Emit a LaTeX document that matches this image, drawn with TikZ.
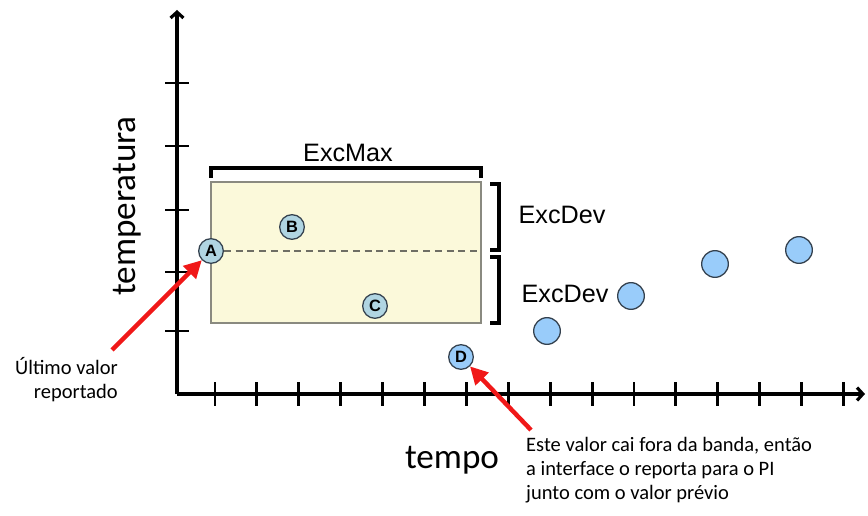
\documentclass[tikz,border=0pt]{standalone}
\usepackage{fontspec}
\setmainfont{Carlito}
\newfontfamily\arialfont{Liberation Sans}
\usepackage{xcolor}
\usepackage{tikz}
\usetikzlibrary{arrows.meta}
\definecolor{band}{HTML}{FBF9DA}
\definecolor{bandEdge}{HTML}{8A8A80}
\definecolor{dashGrey}{HTML}{6E6E64}
\definecolor{ptBlue}{HTML}{99CCFA}
\definecolor{ptPale}{HTML}{B0D5E2}
\definecolor{ptEdge}{HTML}{34414E}
\definecolor{callRed}{HTML}{F01818}
\tikzset{
  axisLine/.style={draw=black, line width=2.7pt, -{Straight Barb[length=5pt,width=11pt]}},
  tickMark/.style={draw=black, line width=2.5pt},
  bracketLine/.style={draw=black, line width=2.7pt},
  ptDot/.style={circle, draw=ptEdge, line width=1.1pt, fill=ptBlue, minimum size=0.8cm, inner sep=0pt},
  ptLbl/.style={ptDot, fill=ptPale, minimum size=0.74cm, font=\arialfont\bfseries\fontsize{14}{14}\selectfont},
  axisLbl/.style={font=\fontsize{30}{30}\selectfont, inner sep=0pt},
  bandLbl/.style={font=\arialfont\fontsize{21.5}{21.5}\selectfont, inner sep=0pt},
  noteLbl/.style={font=\fontsize{17.5}{20.5}\selectfont, inner sep=0pt},
  redArrow/.style={draw=callRed, line width=3.8pt, -{Triangle[length=15pt,width=15pt]}},
}
\newcommand{\BandCorners}{%
  \coordinate (bandNW) at (211,182);
  \coordinate (bandSE) at (481,323);
  \coordinate (bandMid) at (481,251);
}

\begin{document}
\begin{tikzpicture}[x=0.03cm, y=-0.03cm]
  \useasboundingbox (0,0) rectangle (868,516);
  \BandCorners

  % axes
  \coordinate (origin) at (177,394);
  \coordinate (yTop) at (177,10);
  \coordinate (xEnd) at (865,394);
  \draw[axisLine] (origin) -- (yTop);
  \draw[axisLine] (origin) -- (xEnd);
  \foreach \y in {83,146,210,272,331}
    \draw[tickMark] (165,\y) -- (189,\y);
  \foreach \i in {0,...,15}
    \draw[tickMark] ({215+41.9*\i},382) -- ++(0,24);

  % band
  \draw[fill=band, draw=bandEdge, line width=1pt] (bandNW) rectangle (bandSE);
  \draw[bracketLine] (211,178) -- (211,168) -- (481,168) -- (481,178);
  \draw[bracketLine] (490,184) -- (499,184) -- (499,250) -- (490,250);
  \draw[bracketLine] (490,257) -- (499,257) -- (499,323) -- (490,323);
  \node[bandLbl] (excMax) at (348,153) {ExcMax};
  \node[bandLbl] (excDevUp) at (562,215) {ExcDev};
  \node[bandLbl] (excDevLo) at (565,294) {ExcDev};

  % points
  \node[ptLbl] (A) at (211,251) {A};
  \draw[dashGrey, dashed, line width=1.2pt, dash pattern=on 6pt off 4pt] (A) -- (bandMid);
  \node[ptLbl] (B) at (292,227) {B};
  \node[ptLbl] (C) at (375,306) {C};
  \node[ptLbl, fill=ptBlue] (D) at (461,357) {D};
  \node[ptDot] (p1) at (547,331) {};
  \node[ptDot] (p2) at (631,296) {};
  \node[ptDot] (p3) at (715,264) {};
  \node[ptDot] (p4) at (799,250) {};

  % labels
  \node[axisLbl, rotate=90] (tempLbl) at (127,206) {temperatura};
  \node[axisLbl] (timeLbl) at (452,460) {tempo};
  \node[noteLbl, align=right, anchor=east] (lastNote) at (118,380) {Último valor\\reportado};
  \node[noteLbl, align=left, anchor=west] (outNote) at (526,470)
    {Este valor cai fora da banda, então\\a interface o reporta para o PI\\junto com o valor prévio};

  \coordinate (lastTail) at (112,350);
  \coordinate (outTail) at (531,430);
  \draw[redArrow] (lastTail) -- (A);
  \draw[redArrow] (outTail) -- (D);
\end{tikzpicture}
\end{document}
